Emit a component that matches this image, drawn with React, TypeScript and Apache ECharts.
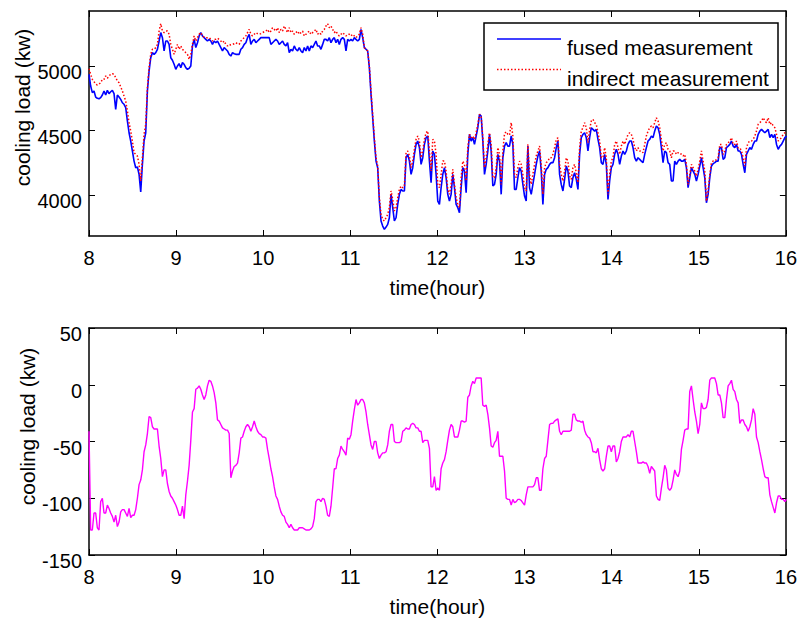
import React, { useEffect, useRef } from "react";
import * as echarts from "echarts";

// ---- time axis ----
const START_HOUR = 8;
const END_HOUR = 16;
const SAMPLE_STEP_HOURS = 0.019157; // about 1.15 min between samples
const hourTicks = [8, 9, 10, 11, 12, 13, 14, 15, 16];

// ---- top panel: cooling load (kW) ----
const topLoadTicks = [4000, 4500, 5000];
const topLoadMin = 3686;
const topLoadMax = 5425;

const fusedLoad = [
  // 8:00 - 12:00
  4935,4845,4794,4807,4760,4750,4747,4755,4776,4807,
  4776,4812,4786,4801,4812,4786,4665,4776,4760,4742,
  4716,4704,4678,4575,4484,4420,4343,4265,4214,4219,
  4162,4026,4240,4420,4484,4807,4961,5064,5103,5090,
  5103,5129,5193,5258,5219,5116,5193,5193,5167,5064,
  5044,5013,4974,5000,5018,4987,5026,5013,4987,4974,
  4982,5000,5155,5206,5142,5180,5232,5258,5232,5219,
  5206,5193,5206,5193,5167,5193,5180,5193,5167,5142,
  5116,5142,5129,5116,5090,5077,5103,5095,5090,5090,
  5090,5129,5142,5167,5180,5219,5245,5167,5193,5206,
  5180,5193,5206,5219,5219,5219,5219,5219,5219,5167,
  5180,5193,5206,5193,5167,5180,5193,5167,5155,5180,
  5103,5129,5116,5155,5129,5116,5142,5116,5103,5142,
  5116,5155,5116,5155,5142,5167,5193,5155,5155,5129,
  5167,5206,5206,5193,5219,5180,5206,5219,5180,5206,
  5167,5206,5219,5206,5116,5206,5193,5206,5193,5219,
  5206,5193,5206,5283,5219,5142,5129,5116,4987,4781,
  4600,4420,4265,4214,3956,3802,3763,3737,3755,3776,
  3827,4008,3905,3802,3827,3930,4008,4046,4034,4034,
  4291,4317,4265,4162,4214,4317,4394,4420,4369,4240,
  4291,4394,4446,4459,4265,4098,4343,4317,4162,
  // 12:00 - 16:00
  3956,3930,4059,4162,4214,4137,4008,3956,4008,4162,
  4059,3930,3905,3866,4059,4214,4188,4021,4317,4472,
  4420,4446,4394,4459,4523,4626,4613,4420,4162,4240,
  4343,4472,4343,4072,4085,4162,4317,4265,4008,4291,
  4381,4407,4381,4381,4459,4394,4046,4046,4137,4214,
  4188,4085,3995,3956,4381,4059,4008,4085,4162,4240,
  4304,4343,4188,3930,4162,4201,4214,4240,4253,4253,
  4291,4369,4420,4162,4085,4034,4124,4227,4188,4072,
  4059,4137,4175,4124,4046,4317,4446,4472,4484,4446,
  4343,4446,4523,4510,4497,4510,4433,4369,4253,4240,
  4317,4240,3969,4111,4214,4240,4317,4356,4317,4240,
  4304,4343,4317,4343,4394,4420,4420,4369,4291,4265,
  4291,4278,4265,4253,4317,4369,4420,4433,4459,4446,
  4497,4536,4523,4472,4369,4253,4343,4330,4253,4240,
  4111,4111,4265,4240,4265,4278,4265,4265,4278,4214,
  4059,4137,4214,4188,4162,4111,4162,4227,4291,4214,
  4137,3943,4008,4137,4227,4245,4253,4265,4265,4369,
  4369,4278,4291,4369,4381,4394,4420,4381,4369,4394,
  4343,4343,4317,4240,4175,4317,4343,4369,4356,4394,
  4420,4420,4472,4497,4510,4497,4484,4497,4510,4446,
  4472,4446,4472,4394,4356,4381,4394,4420,4446,4459,
];

const indirectLoad = [
  // 8:00 - 12:00
  4979,4935,4897,4879,4859,4853,4859,4871,4897,4897,
  4923,4905,4923,4935,4941,4935,4910,4884,4871,4838,
  4807,4768,4729,4652,4562,4497,4420,4330,4317,4304,
  4240,4111,4291,4472,4549,4832,4987,5090,5129,5129,
  5142,5167,5270,5327,5270,5258,5270,5270,5245,5167,
  5129,5090,5129,5167,5129,5155,5129,5116,5103,5090,
  5051,5090,5167,5232,5193,5219,5245,5258,5232,5224,
  5219,5219,5219,5206,5193,5206,5206,5214,5206,5193,
  5180,5193,5167,5155,5167,5162,5167,5172,5180,5172,
  5167,5193,5206,5219,5232,5258,5283,5245,5232,5245,
  5258,5250,5245,5250,5258,5265,5270,5283,5258,5270,
  5296,5283,5270,5296,5258,5283,5270,5309,5283,5258,
  5296,5258,5270,5245,5258,5270,5245,5258,5270,5232,
  5245,5258,5270,5245,5258,5270,5283,5245,5258,5245,
  5270,5283,5309,5327,5296,5309,5283,5258,5270,5245,
  5232,5245,5258,5245,5232,5245,5245,5232,5245,5232,
  5219,5232,5245,5296,5245,5142,5129,5116,5000,4807,
  4626,4446,4291,4227,3982,3853,3814,3802,3827,3853,
  3905,4034,3969,3879,3905,3982,4046,4072,4059,4072,
  4330,4343,4304,4214,4265,4356,4433,4459,4420,4291,
  4343,4433,4484,4497,4343,4188,4433,4420,4317,
  // 12:00 - 16:00
  4085,4059,4162,4265,4265,4188,4046,4008,4085,4201,
  4085,3982,3930,3905,4137,4265,4240,4111,4369,4472,
  4446,4459,4433,4484,4549,4626,4613,4446,4214,4291,
  4394,4484,4394,4137,4137,4214,4369,4317,4085,4343,
  4477,4492,4472,4466,4562,4459,4162,4137,4214,4265,
  4240,4162,4059,4034,4394,4162,4085,4162,4240,4304,
  4343,4381,4240,4008,4214,4253,4265,4291,4291,4317,
  4369,4433,4446,4240,4162,4111,4188,4291,4265,4149,
  4124,4214,4240,4175,4098,4369,4497,4523,4562,4523,
  4407,4510,4575,4588,4562,4549,4484,4420,4291,4291,
  4369,4291,4008,4162,4265,4291,4394,4420,4369,4317,
  4381,4420,4394,4433,4472,4484,4472,4433,4369,4343,
  4369,4343,4343,4330,4394,4459,4497,4523,4536,4523,
  4562,4600,4575,4523,4433,4343,4394,4407,4356,4343,
  4291,4343,4343,4317,4330,4330,4317,4304,4317,4240,
  4085,4162,4240,4214,4188,4149,4201,4265,4343,4265,
  4188,3956,4034,4162,4253,4265,4265,4278,4291,4394,
  4394,4317,4343,4394,4407,4420,4446,4394,4394,4420,
  4369,4369,4343,4291,4227,4369,4407,4420,4420,4433,
  4459,4497,4549,4562,4575,4600,4575,4562,4600,4549,
  4562,4536,4523,4472,4420,4433,4446,4472,4484,4497,
];

// ---- bottom panel: difference (kW) ----
const bottomLoadTicks = [-150, -100, -50, 0, 50];

const loadDifference = [
  // 8:00 - 12:00
  -41,-128,-128,-113,-113,-126,-128,-103,-100,-113,
  -113,-106,-109,-113,-116,-121,-115,-125,-121,-112,
  -110,-110,-113,-116,-109,-117,-115,-115,-110,-100,
  -88,-84,-75,-59,-53,-43,-28,-29,-37,-39,
  -39,-39,-54,-65,-81,-75,-75,-87,-94,-98,
  -100,-103,-106,-110,-115,-115,-107,-118,-97,-85,
  -71,-49,-24,-21,-4,-3,-1,-4,-9,-13,
  -9,-1,4,3,-1,-7,-16,-31,-32,-35,
  -38,-39,-40,-40,-43,-82,-76,-72,-71,-69,
  -60,-47,-46,-41,-37,-35,-37,-41,-37,-32,
  -37,-41,-43,-44,-46,-46,-47,-57,-65,-74,
  -81,-90,-98,-101,-107,-112,-115,-116,-121,-123,
  -126,-123,-126,-128,-128,-128,-126,-126,-126,-127,
  -128,-128,-128,-127,-125,-118,-103,-101,-101,-103,
  -100,-101,-107,-115,-116,-107,-91,-74,-74,-65,
  -62,-54,-57,-59,-62,-47,-48,-44,-32,-22,
  -13,-18,-16,-13,-13,-16,-24,-35,-44,-53,
  -57,-50,-50,-60,-65,-62,-60,-60,-59,-53,
  -41,-35,-35,-50,-51,-51,-51,-50,-41,-40,
  -38,-39,-39,-35,-34,-35,-38,-38,-41,-41,
  -51,-49,-49,-49,-56,-90,-90,-81,-93,
  // 12:00 - 16:00
  -91,-93,-74,-69,-66,-59,-49,-40,-35,-37,
  -46,-46,-46,-40,-32,-32,-33,-32,-11,-9,
  -1,3,1,6,6,6,6,-18,-19,-18,
  -26,-38,-54,-55,-51,-49,-41,-63,-63,-63,
  -76,-100,-101,-101,-106,-101,-104,-103,-101,-101,
  -102,-104,-106,-97,-90,-90,-90,-90,-88,-82,
  -82,-93,-93,-74,-65,-63,-49,-35,-34,-34,
  -32,-31,-30,-41,-44,-41,-41,-41,-41,-41,
  -40,-26,-26,-31,-32,-32,-33,-32,-40,-44,
  -46,-47,-51,-59,-59,-60,-56,-66,-74,-76,
  -74,-63,-54,-54,-59,-54,-54,-68,-65,-59,
  -50,-46,-46,-46,-44,-46,-41,-41,-50,-59,
  -69,-69,-69,-68,-69,-69,-72,-78,-72,-74,
  -76,-98,-101,-102,-91,-82,-71,-75,-91,-93,
  -91,-84,-75,-79,-81,-76,-57,-49,-40,-39,
  -39,-6,-1,-13,-24,-32,-43,-35,-16,-21,
  -21,-20,-13,4,6,6,6,1,-9,-9,
  -16,-29,-29,-13,-1,1,4,-4,-6,-13,
  -16,-34,-31,-31,-35,-37,-41,-37,-31,-21,
  -26,-46,-51,-59,-66,-74,-81,-82,-82,-97,
  -103,-108,-113,-104,-98,-98,-101,-101,-103,-101,
];

const seriesNames = ["fused measurement", "indirect measurement"];
const xTitle = "time(hour)";
const yTitle = "cooling load (kw)";

const FONT = '"Liberation Sans", Arial, Helvetica, sans-serif';

function toPairs(values: number[]) {
  return values.map((v, i) => [START_HOUR + i * SAMPLE_STEP_HOURS, v]);
}

function buildOption() {
  const frame = { color: "#000", width: 1.5 };
  const tick = { show: true, inside: true, length: 6, lineStyle: { color: "#000", width: 1 } };
  const plain = (v: number) => String(v);

  const xAxis = (gridIndex: number, position: "top" | "bottom", labelled: boolean) => ({
    type: "value",
    gridIndex,
    position,
    min: START_HOUR,
    max: END_HOUR,
    interval: 1,
    axisLine: { show: true, onZero: false, lineStyle: frame },
    axisTick: { ...tick, customValues: hourTicks },
    axisLabel: {
      show: labelled,
      customValues: hourTicks,
      formatter: plain,
      color: "#000",
      fontSize: 20,
      fontFamily: FONT,
      margin: 12,
    },
    splitLine: { show: false },
    name: labelled ? xTitle : "",
    nameLocation: "middle",
    nameGap: 41,
    nameTextStyle: { color: "#000", fontSize: 21, fontFamily: FONT },
  });

  const yAxis = (
    gridIndex: number,
    position: "left" | "right",
    labelled: boolean,
    min: number,
    max: number,
    ticks: number[]
  ) => ({
    type: "value",
    gridIndex,
    position,
    min,
    max,
    axisLine: { show: true, onZero: false, lineStyle: frame },
    axisTick: { ...tick, customValues: ticks },
    axisLabel: {
      show: labelled,
      customValues: ticks,
      formatter: plain,
      color: "#000",
      fontSize: 20,
      fontFamily: FONT,
      margin: 7,
      verticalAlign: "top",
      lineHeight: 12,
    },
    splitLine: { show: false },
  });

  const textStyle = (text: string) => ({
    text,
    fill: "#000",
    fontSize: 21,
    fontFamily: FONT,
  });

  return {
    animation: false,
    backgroundColor: "#fff",
    grid: [
      { left: 89, width: 697, top: 11, height: 225 },
      { left: 89, width: 697, top: 328, height: 227 },
    ],
    xAxis: [
      xAxis(0, "bottom", true),
      xAxis(0, "top", false),
      xAxis(1, "bottom", true),
      xAxis(1, "top", false),
    ],
    yAxis: [
      yAxis(0, "left", true, topLoadMin, topLoadMax, topLoadTicks),
      yAxis(0, "right", false, topLoadMin, topLoadMax, topLoadTicks),
      yAxis(1, "left", true, -150, 50, bottomLoadTicks),
      yAxis(1, "right", false, -150, 50, bottomLoadTicks),
    ],
    series: [
      {
        name: seriesNames[0],
        type: "line",
        xAxisIndex: 0,
        yAxisIndex: 0,
        data: toPairs(fusedLoad),
        showSymbol: false,
        symbol: "none",
        silent: true,
        lineStyle: { color: "#0000ff", width: 1.6 },
        z: 2,
      },
      {
        name: seriesNames[1],
        type: "line",
        xAxisIndex: 0,
        yAxisIndex: 0,
        data: toPairs(indirectLoad),
        showSymbol: false,
        symbol: "none",
        silent: true,
        lineStyle: { color: "#ff0000", width: 1.5, type: [1.5, 2] },
        z: 3,
      },
      {
        name: "difference",
        type: "line",
        xAxisIndex: 2,
        yAxisIndex: 2,
        data: toPairs(loadDifference),
        showSymbol: false,
        symbol: "none",
        silent: true,
        lineStyle: { color: "#ff00ff", width: 1.4 },
      },
    ],
    graphic: [
      {
        type: "text",
        x: 22,
        y: 107.5,
        rotation: Math.PI / 2,
        style: { ...textStyle(yTitle), textAlign: "center", textVerticalAlign: "middle", align: "center", verticalAlign: "middle" },
      },
      {
        type: "text",
        x: 27,
        y: 426.5,
        rotation: Math.PI / 2,
        style: { ...textStyle(yTitle), textAlign: "center", textVerticalAlign: "middle", align: "center", verticalAlign: "middle" },
      },
      {
        type: "group",
        z: 100,
        children: [
          {
            type: "rect",
            z: 100,
            shape: { x: 484, y: 23, width: 294, height: 67 },
            style: { fill: "#fff", stroke: "#000", lineWidth: 1.5 },
          },
          {
            type: "line",
            z: 101,
            shape: { x1: 497, y1: 39, x2: 561, y2: 39 },
            style: { stroke: "#0000ff", lineWidth: 1.6 },
          },
          {
            type: "line",
            z: 101,
            shape: { x1: 497, y1: 69.5, x2: 561, y2: 69.5 },
            style: { stroke: "#ff0000", lineWidth: 1.5, lineDash: [1.5, 2] },
          },
          {
            type: "text",
            z: 101,
            x: 567,
            y: 47,
            style: { ...textStyle(seriesNames[0]), textAlign: "left", textVerticalAlign: "middle", align: "left", verticalAlign: "middle" },
          },
          {
            type: "text",
            z: 101,
            x: 567,
            y: 78,
            style: { ...textStyle(seriesNames[1]), textAlign: "left", textVerticalAlign: "middle", align: "left", verticalAlign: "middle" },
          },
        ],
      },
    ],
  };
}

export default function App() {
  const ref = useRef<HTMLDivElement>(null);

  useEffect(() => {
    if (!ref.current) return;
    const chart = echarts.init(ref.current, undefined, { renderer: "svg" });
    chart.setOption(buildOption() as any);
    return () => {
      chart.dispose();
    };
  }, []);

  return (
    <div
      ref={ref}
      style={{ position: "fixed", left: 0, top: 0, width: 800, height: 619, background: "#fff" }}
    />
  );
}
